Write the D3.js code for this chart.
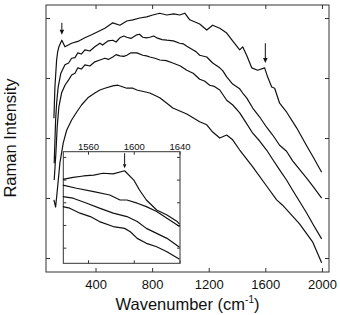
<!DOCTYPE html>
<html><head><meta charset="utf-8">
<script src="https://cdn.jsdelivr.net/npm/d3@7/dist/d3.min.js"></script>
<style>body{margin:0;background:#fff}svg{display:block;font-family:"Liberation Sans",Arial,sans-serif}</style>
</head><body>
<script>
// ---- main spectra: wavenumber (cm-1) and intensity (a.u.)
const wn1 = [106,113,125,132,141,162,184,231,275,325,372,416,466,522,572,621,664,713,762,805,854,904,953,995,1031,1066,1136,1186,1228,1278,1327,1369,1419,1440,1468,1504,1546,1595,1616,1645,1666,1701,1751,1821,1892,1941,1998];
const int1 = [3.33,3.85,4.30,4.43,4.52,4.63,4.52,4.58,4.61,4.67,4.72,4.77,4.83,4.92,4.88,4.95,4.97,5.00,5.02,5.05,5.08,5.05,5.07,5.05,5.08,4.97,4.90,4.80,4.88,4.83,4.75,4.62,4.47,4.52,4.38,4.17,4.13,4.17,4.02,3.85,3.83,3.58,3.43,3.17,2.87,2.67,2.43];
const wn2 = [108,118,125,136,155,184,210,231,255,275,300,325,360,395,431,450,466,490,522,545,572,600,621,650,692,710,734,760,784,810,833,870,904,950,995,1020,1045,1087,1110,1136,1186,1228,1278,1300,1327,1369,1419,1440,1468,1511,1560,1609,1652,1701,1750,1793,1892,1941,1998];
const int2 = [2.58,3.30,3.58,3.85,4.08,4.22,4.25,4.33,4.34,4.42,4.40,4.47,4.45,4.52,4.58,4.55,4.58,4.62,4.63,4.60,4.67,4.70,4.68,4.66,4.72,4.73,4.68,4.67,4.68,4.70,4.67,4.64,4.63,4.62,4.58,4.57,4.53,4.47,4.44,4.38,4.35,4.25,4.17,4.12,4.02,3.90,3.82,3.75,3.67,3.50,3.35,3.18,3.05,2.88,2.78,2.62,2.33,2.18,2.00];
const wn3 = [108,120,129,141,160,184,210,231,255,275,300,325,360,395,431,466,490,522,545,572,600,621,650,692,734,760,784,820,854,900,946,1000,1045,1090,1136,1170,1207,1240,1278,1327,1370,1419,1460,1511,1560,1609,1650,1701,1750,1793,1840,1892,1940,1998];
const int3 = [2.30,2.75,3.18,3.52,3.75,3.88,3.97,4.05,4.08,4.17,4.15,4.22,4.20,4.27,4.30,4.33,4.31,4.35,4.39,4.37,4.36,4.38,4.42,4.42,4.38,4.37,4.35,4.33,4.30,4.29,4.25,4.20,4.13,4.08,3.98,3.95,3.88,3.86,3.80,3.63,3.55,3.42,3.27,3.08,2.95,2.80,2.65,2.47,2.30,2.13,1.95,1.75,1.55,1.32];
const wn4 = [106,118,132,148,172,196,231,266,301,346,395,431,466,522,558,621,664,692,784,854,904,946,1045,1136,1186,1228,1278,1327,1369,1419,1511,1609,1680,1722,1842,1934,1998];
const int4 = [1.97,1.85,2.18,2.58,2.92,3.13,3.30,3.43,3.55,3.67,3.75,3.80,3.83,3.87,3.88,3.83,3.83,3.80,3.75,3.67,3.58,3.50,3.40,3.27,3.22,3.10,3.00,3.05,2.97,2.80,2.52,2.20,1.97,1.88,1.57,1.27,0.92];
const xTicks = [400,800,1200,1600,2000];
const yTicks = [1,2,3,4,5];
// arrows: [wavenumber, tail intensity, head intensity]
const arrowsMain = [[162,4.92,4.72],[1600,4.58,4.25]];

// ---- inset (1540-1640 cm-1)
const iwn1 = [1538,1547,1556,1565,1573,1582,1592,1600,1605,1611,1620,1629,1638,1640];
const iint1 = [4.01,4.10,4.16,4.20,4.28,4.25,4.39,3.98,3.54,3.10,2.66,2.44,2.15,2.04];
const iwn2 = [1538,1550,1565,1579,1588,1594,1603,1611,1620,1629,1640];
const iint2 = [3.76,3.62,3.47,3.32,3.10,3.10,2.96,2.81,2.59,2.30,1.93];
const iwn3 = [1538,1547,1559,1570,1582,1594,1603,1611,1620,1629,1640];
const iint3 = [3.25,3.18,2.96,2.74,2.52,2.37,2.15,1.85,1.63,1.41,1.02];
const iwn4 = [1538,1544,1553,1562,1570,1582,1592,1597,1603,1611,1620,1629,1640];
const iint4 = [2.81,2.74,2.52,2.37,2.15,1.93,1.85,1.70,1.41,1.19,1.04,0.82,0.49];
const ixTicks = [1560,1600,1640];
const iyTicks = [1,2,3,4,5];
const arrowsInset = [[1592,5.16,4.50]];

const W = 340, H = 315;
const svg = d3.select("body").append("svg").attr("width", W).attr("height", H);
const ink = "#111";
const fmt = d3.format("d");

function panel(g, x, y, xt, yt, labelTop, fs, tl, pad) {
  const [x0, x1] = x.range(), [y0, y1] = y.range();
  g.append("rect").attr("x", x0).attr("y", y1).attr("width", x1 - x0).attr("height", y0 - y1)
    .attr("fill", "#fff").attr("stroke", "#333").attr("stroke-width", 1);
  const ax = d3.axisBottom(x).tickValues(xt).tickSizeInner(-tl).tickSizeOuter(0).tickPadding(pad).tickFormat(labelTop ? "" : fmt);
  const axT = d3.axisTop(x).tickValues(xt).tickSizeInner(-tl).tickSizeOuter(0).tickPadding(pad).tickFormat(labelTop ? fmt : "");
  const ayL = d3.axisLeft(y).tickValues(yt).tickSizeInner(-tl).tickSizeOuter(0).tickFormat("");
  const ayR = d3.axisRight(y).tickValues(yt).tickSizeInner(-tl).tickSizeOuter(0).tickFormat("");
  g.append("g").attr("transform", `translate(0,${y0})`).call(ax);
  g.append("g").attr("transform", `translate(0,${y1})`).call(axT);
  g.append("g").attr("transform", `translate(${x0},0)`).call(ayL);
  g.append("g").attr("transform", `translate(${x1},0)`).call(ayR);
  g.selectAll(".domain").remove();
  g.selectAll(".tick line").attr("stroke", "#333");
  g.selectAll(".tick text").attr("font-size", fs).attr("fill", ink).attr("font-family", "Liberation Sans, Arial, sans-serif");
}

function curves(g, x, y, sets) {
  const line = d3.line().x(d => x(d[0])).y(d => y(d[1]));
  sets.forEach(([w, v]) => {
    g.append("path").datum(w.map((d, i) => [d, v[i]])).attr("d", line)
      .attr("fill", "none").attr("stroke", ink).attr("stroke-width", 1.2).attr("stroke-linejoin", "round");
  });
}

function arrows(g, x, y, arr, head) {
  arr.forEach(([w, a, b]) => {
    const px = x(w), ya = y(a), yb = y(b);
    g.append("line").attr("x1", px).attr("x2", px).attr("y1", ya).attr("y2", yb - head)
      .attr("stroke", ink).attr("stroke-width", 1);
    g.append("path").attr("d", `M${px - head * 0.45},${yb - head}L${px + head * 0.45},${yb - head}L${px},${yb}Z`).attr("fill", ink);
  });
}

// main
const x = d3.scaleLinear().domain([50, 2050]).range([46, 329]);
const y = d3.scaleLinear().domain([0.767, 5.217]).range([272, 5]);
const gm = svg.append("g");
panel(gm, x, y, xTicks, yTicks, false, 13, 4, 7.5);
curves(gm, x, y, [[wn1, int1], [wn2, int2], [wn3, int3], [wn4, int4]]);
arrows(gm, x, y, arrowsMain, 5);

// inset
const ix = d3.scaleLinear().domain([1538.4, 1640.4]).range([63.3, 180]);
const iy = d3.scaleLinear().domain([0.31, 5.23]).range([263.3, 151.7]);
const gi = svg.append("g");
panel(gi, ix, iy, ixTicks, iyTicks, true, 9.5, 3, 2);
curves(gi, ix, iy, [[iwn1, iint1], [iwn2, iint2], [iwn3, iint3], [iwn4, iint4]]);
arrows(gi, ix, iy, arrowsInset, 4);

// axis titles
const xt = svg.append("text").attr("x", 187.5).attr("y", 309.5).attr("text-anchor", "middle")
  .attr("font-size", 16.5).attr("fill", ink);
xt.append("tspan").text("Wavenumber (cm");
xt.append("tspan").attr("font-size", 10).attr("dy", -7).text("-1");
xt.append("tspan").attr("dy", 7).text(")");
svg.append("text").attr("transform", "translate(15.5,138) rotate(-90)").attr("text-anchor", "middle")
  .attr("font-size", 16.5).attr("fill", ink).text("Raman Intensity");
</script>
</body></html>
